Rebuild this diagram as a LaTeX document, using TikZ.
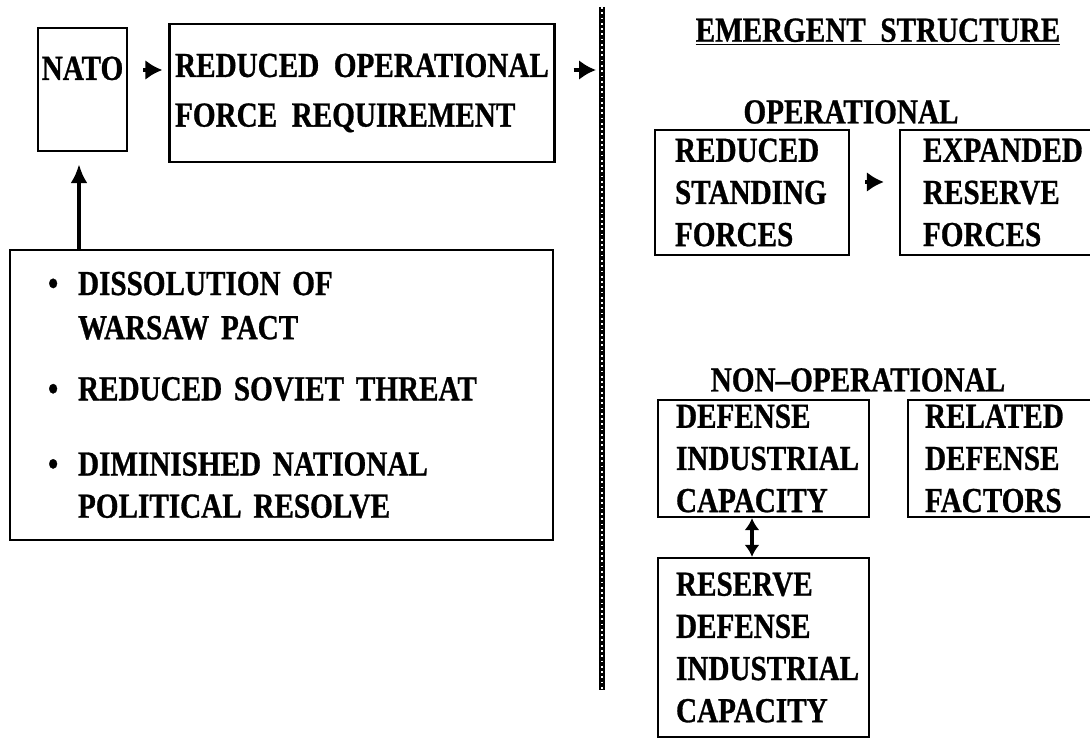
\documentclass[tikz,border=0pt]{standalone}
\usepackage{fontspec}
\setmainfont{Liberation Serif}[FakeStretch=0.83,WordSpace=2.0,FakeBold=0.8]
\usetikzlibrary{arrows.meta}

\begin{document}
\begin{tikzpicture}[x=0.02cm,y=-0.02cm,
  font=\bfseries\fontsize{20}{24}\selectfont,
  blk/.style={draw, line width=1.3pt, align=left, inner ysep=0pt},
  tip/.style={-{Latex[length=0.34cm,width=0.4cm]}, line width=2.6pt},
  uptip/.style={-{Latex[length=0.38cm,width=0.34cm]}, line width=2.2pt},
  bothtip/.style={{Latex[length=0.24cm,width=0.3cm]}-{Latex[length=0.24cm,width=0.3cm]}, line width=2.4pt},
  divider/.style={line width=3pt,
    postaction={draw, white, line width=0.7pt, dash pattern=on 1pt off 2pt}}]

  \useasboundingbox (0,0) rectangle (1090,739);

  \def\blt{\makebox[0.6cm][l]{\textbullet}}
  \def\ind{\hspace*{0.6cm}}

  % left side
  \node[blk, minimum width=1.78cm, minimum height=2.46cm, inner xsep=0pt,
        text depth=0.85cm] (nato) at (82.5,89.5) {NATO};
  \node[blk, minimum width=7.7cm, minimum height=2.76cm, inner xsep=0pt]
        (rofr) at (362,93)
        {REDUCED OPERATIONAL\\[0.15cm] FORCE REQUIREMENT};
  \node[blk, minimum width=10.86cm, minimum height=5.8cm, inner xsep=0.76cm,
        text width=9.34cm] (causes) at (281.5,395)
        {\blt DISSOLUTION OF\\[0.04cm]
         \ind WARSAW PACT\\[0.38cm]
         \blt REDUCED SOVIET THREAT\\[0.66cm]
         \blt DIMINISHED NATIONAL\\
         \ind POLITICAL RESOLVE};

  % divider
  \coordinate (top) at (602,7);
  \coordinate (bot) at (602,690);
  \draw[divider] (top) -- (bot);

  % right side
  \node (emerg) at (878,32) {\underline{EMERGENT STRUCTURE}};
  \node (oper) at (851,112) {OPERATIONAL};
  \node[blk, minimum width=3.88cm, minimum height=2.5cm, inner xsep=0.4cm,
        text width=3.08cm] (rsf) at (752,192.5)
        {REDUCED\\ STANDING\\ FORCES};
  \node[blk, minimum width=4cm, minimum height=2.5cm, inner xsep=0.46cm,
        text width=3.08cm] (erf) at (1000,192.5)
        {EXPANDED\\ RESERVE\\ FORCES};

  \node (nonop) at (858,380) {NON--OPERATIONAL};
  \node[blk, minimum width=4.22cm, minimum height=2.34cm, inner xsep=0.36cm,
        text width=3.5cm] (dic) at (763.5,458.5)
        {DEFENSE\\ INDUSTRIAL\\ CAPACITY};
  \node[blk, minimum width=3.84cm, minimum height=2.34cm, inner xsep=0.34cm,
        text width=3.16cm] (rdf) at (1004,458.5)
        {RELATED\\ DEFENSE\\ FACTORS};
  \node[blk, minimum width=4.22cm, minimum height=3.58cm, inner xsep=0.36cm,
        text width=3.5cm] (rdic) at (763.5,647.5)
        {RESERVE\\ DEFENSE\\ INDUSTRIAL\\ CAPACITY};

  % arrows
  \coordinate (lvl) at (0,70);
  \draw[tip, shorten <=0.3cm, shorten >=0.12cm] (nato.east |- lvl) -- (rofr.west |- lvl);
  \draw[tip, shorten <=0.36cm, shorten >=0.12cm] (rofr.east |- lvl) -- (top |- lvl);
  \draw[uptip, shorten >=0.24cm] (causes.north -| 79,0) -- (nato.south -| 79,0);
  \draw[tip, shorten <=0.3cm, shorten >=0.3cm] ([yshift=0.21cm]rsf.east) -- ([yshift=0.21cm]erf.west);
  \draw[bothtip] ([xshift=-0.23cm]dic.south) -- ([xshift=-0.23cm]rdic.north);

\end{tikzpicture}
\end{document}
